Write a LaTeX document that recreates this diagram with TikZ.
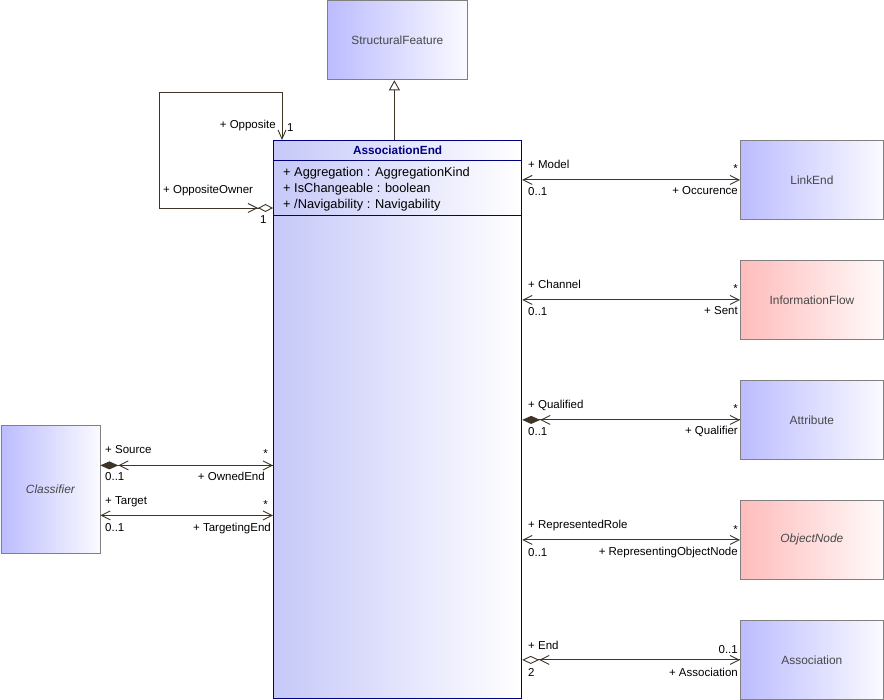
\documentclass[tikz,border=0pt]{standalone}
\usepackage{fontspec}
\setmainfont{Liberation Sans}
\usetikzlibrary{arrows.meta}
\definecolor{lnc}{RGB}{64,52,38}
\definecolor{bluel}{RGB}{188,188,255}
\definecolor{bluer}{RGB}{250,250,255}
\definecolor{pinkl}{RGB}{255,188,188}
\definecolor{pinkr}{RGB}{255,250,250}
\definecolor{aeleft}{RGB}{198,200,248}
\definecolor{navyb}{RGB}{0,0,128}
\definecolor{clsname}{RGB}{72,72,72}
\definecolor{boxborder}{RGB}{128,128,128}
\tikzset{
  cls/.style={draw=boxborder, line width=0.8pt, minimum width=143pt, minimum height=79pt,
    anchor=north west, inner sep=0pt, text=clsname, font=\fontsize{11.9}{13}\selectfont},
  bluebox/.style={cls, left color=bluel, right color=bluer},
  pinkbox/.style={cls, left color=pinkl, right color=pinkr},
  lbl/.style={inner sep=0pt, font=\fontsize{11.5}{13}\selectfont},
  lw/.style={lbl, anchor=base west},
  le/.style={lbl, anchor=base east},
  attr/.style={inner sep=0pt, anchor=base west, font=\fontsize{12.8}{15}\selectfont},
  assoc/.style={draw=lnc, line width=0.9pt},
  twobarb/.style={arrows={{Straight Barb[length=9pt,width=9pt]}-{Straight Barb[length=9pt,width=9pt]}}},
  startbarb/.style={arrows={{Straight Barb[length=9pt,width=9pt]}-}},
  endbarb/.style={arrows={-{Straight Barb[length=9pt,width=9pt]}}},
  fdiabarb/.style={arrows={{Diamond[length=18pt,width=8pt]}-{Straight Barb[length=9pt,width=9pt]}}},
  odiabarb/.style={arrows={{Diamond[open,length=17pt,width=8pt]}-{Straight Barb[length=9pt,width=9pt]}}},
}
\begin{document}
\begin{tikzpicture}[x=1pt,y=-1pt]
\useasboundingbox (0,0) rectangle (884,700);

% classes
\node[bluebox, minimum width=140pt] (sf) at (327,0.5) {StructuralFeature};
\node[bluebox] (le) at (740,140) {LinkEnd};
\node[pinkbox] (inf) at (740,260) {InformationFlow};
\node[bluebox] (att) at (740,380) {Attribute};
\node[pinkbox] (obn) at (740,500) {\itshape ObjectNode};
\node[bluebox] (asc) at (740,620) {Association};
\node[bluebox, minimum width=99pt, minimum height=128pt] (cl) at (0.5,425) {\itshape Classifier};

% AssociationEnd
\node[draw=navyb, line width=1.2pt, left color=aeleft, right color=white, anchor=north west,
  minimum width=248pt, minimum height=558pt, inner sep=0pt] (ae) at (273,140) {};
\draw[navyb, line width=0.9pt] ([yshift=-20pt]ae.north west) -- ([yshift=-20pt]ae.north east);
\draw[navyb, line width=0.9pt] ([yshift=-75pt]ae.north west) -- ([yshift=-75pt]ae.north east);
\node[inner sep=0pt, text=navyb, font=\bfseries\fontsize{11.8}{14}\selectfont] (aet) at ([yshift=-10pt]ae.north) {AssociationEnd};
\node[attr] (a1) at (283,177) {+ Aggregation : AggregationKind};
\node[attr] (a2) at (283,193) {+ IsChangeable : boolean};
\node[attr] (a3) at (283,209) {+ /Navigability : Navigability};

% generalization
\coordinate (gtop) at ([xshift=-3pt]sf.south);
\draw[assoc, -{Triangle[open,length=10pt,width=11pt,fill=white]}] (ae.north -| gtop) -- (gtop);

% self association
\coordinate (s1) at (282,92);
\coordinate (s2) at (159,92);
\coordinate (s3) at (159,208);
\draw[assoc, arrows={{Straight Barb[length=9pt,width=8pt]}-{Diamond[open,length=15pt,width=8pt]}}]
  (ae.north -| s1) -- (s1) -- (s2) -- (s3) -- (s3 -| ae.west);
\draw[assoc, endbarb, shorten >=15pt] (s3) -- (s3 -| ae.west);
\node[le] (lopp) at (276,129) {+ Opposite};
\node[lw] (lopp1) at (287,132) {1};
\node[lw] (loo) at (163,194) {+ OppositeOwner};
\node[lw] (loo1) at (260,224) {1};

% Model / Occurence
\draw[assoc, twobarb] (ae.east |- le.west) -- (le.west);
\node[lw] (l1a) at (528,169) {+ Model};
\node[le] (l1b) at (738,173) {*};
\node[lw] (l1c) at (528,196) {0..1};
\node[le] (l1d) at (738,195) {+ Occurence};

% Channel / Sent
\draw[assoc, twobarb] (ae.east |- inf.west) -- (inf.west);
\node[lw] (l2a) at (528,289) {+ Channel};
\node[le] (l2b) at (738,293) {*};
\node[lw] (l2c) at (528,316) {0..1};
\node[le] (l2d) at (738,315) {+ Sent};

% Qualified / Qualifier
\draw[assoc, fdiabarb] (ae.east |- att.west) -- (att.west);
\draw[assoc, startbarb, shorten <=18pt] (ae.east |- att.west) -- (att.west);
\node[lw] (l3a) at (528,409) {+ Qualified};
\node[le] (l3b) at (738,413) {*};
\node[lw] (l3c) at (528,436) {0..1};
\node[le] (l3d) at (738,435) {+ Qualifier};

% RepresentedRole / RepresentingObjectNode
\draw[assoc, twobarb] (ae.east |- obn.west) -- (obn.west);
\node[lw] (l4a) at (528,529) {+ RepresentedRole};
\node[le] (l4b) at (738,533) {*};
\node[lw] (l4c) at (528,556) {0..1};
\node[le] (l4d) at (738,555) {+ RepresentingObjectNode};

% End / Association
\draw[assoc, odiabarb] (ae.east |- asc.west) -- (asc.west);
\draw[assoc, startbarb, shorten <=17pt] (ae.east |- asc.west) -- (asc.west);
\node[lw] (l5a) at (528,649) {+ End};
\node[le] (l5b) at (738,653) {0..1};
\node[lw] (l5c) at (528,676) {2};
\node[le] (l5d) at (738,676) {+ Association};

% Classifier / Source
\coordinate (cs) at ([yshift=24pt]cl.east);
\coordinate (ct) at ([yshift=-26pt]cl.east);
\draw[assoc, fdiabarb] (cs) -- (cs -| ae.west);
\draw[assoc, startbarb, shorten <=18pt] (cs) -- (cs -| ae.west);
\node[lw] (l6a) at (105,454) {+ Source};
\node[le] (l6b) at (268,458) {*};
\node[lw] (l6c) at (105,481) {0..1};
\node[le] (l6d) at (265,481) {+ OwnedEnd};

\draw[assoc, twobarb] (ct) -- (ct -| ae.west);
\node[lw] (l7a) at (105,504) {+ Target};
\node[le] (l7b) at (268,508) {*};
\node[lw] (l7c) at (105,531) {0..1};
\node[le] (l7d) at (271,531) {+ TargetingEnd};
\end{tikzpicture}
\end{document}
